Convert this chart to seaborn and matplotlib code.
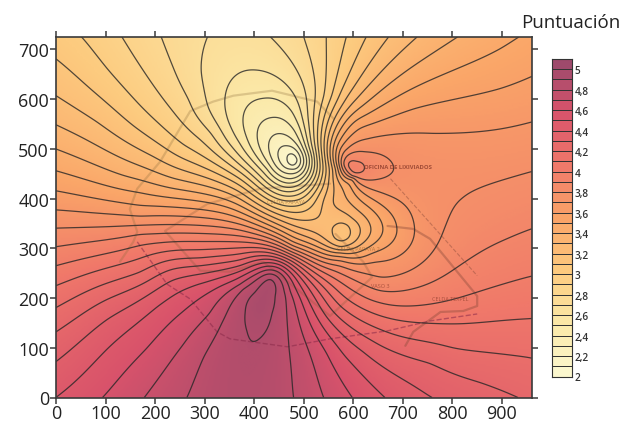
import numpy as np
import pandas as pd
import seaborn as sns
import matplotlib.pyplot as plt

# points (x, y), one list per level
c21 = [(477,490),(487,478),(477,466),(467,480)]
c22 = [(448,486),(467,506),(493,480),(475,460)]
c23 = [(428,504),(459,524),(497,490),(473,450)]
c24 = [(406,514),(436,560),(487,540),(499,500),(436,460),(473,440)]
c25 = [(378,540),(418,597),(479,575),(499,520),(511,480),(418,466),(467,430),(382,514)]
c26 = [(341,581),(402,657),(467,627),(499,546),(517,480),(345,555),(378,514),(426,460),(477,424)]
c27 = [(307,725),(291,655),(305,581),(345,514),(372,484),(477,414),(521,480),(513,506),(507,566),(487,655),(432,725)]
c28 = [(212,725),(236,667),(271,601),(317,534),(372,466),(477,406),(527,480),(523,621),(499,725)]
c29 = [(133,725),(170,667),(220,595),(291,520),(372,454),(477,396),(533,480),(543,607),(545,725)]
c30 = [(53,725),(103,661),(170,587),(257,506),(372,440),(477,385),(537,480),(558,607),(586,725)]
c31 = [(0,681),(69,621),(156,546),(257,480),(372,426),(477,373),(529,410),(541,500),(574,615),(626,725)]
c32 = [(0,607),(83,555),(196,486),(372,414),(477,359),(537,400),(547,500),(588,607),(671,725),
       (558,333),(576,351),(594,333),(576,315),(563,346),(589,346),(563,320),(589,320)]
c33 = [(0,548),(103,496),(236,440),(372,400),(477,347),(574,303),(614,333),(598,360),(560,390),(553,440),
       (553,500),(608,601),(729,725)]
c34 = [(0,500),(135,446),(372,385),(477,335),(574,297),(634,329),(618,369),(584,400),(564,460),(560,506),
       (620,587),(810,725)]
c35 = [(0,456),(170,414),(372,373),(477,323),(574,291),(661,329),(634,383),(594,424),(568,506),(628,567),(897,701)]
c36 = [(0,416),(170,385),(372,359),(477,311),(574,283),(689,329),(654,389),(598,440),(574,500),(608,546),
       (721,581),(897,621),(960,645)]
c37 = [(0,377),(170,361),(372,349),(477,303),(574,275),(640,283),(715,305),(719,353),(669,406),(608,434),
       (576,470),(588,500),(628,520),(762,530),(897,540),(960,554)]
c38 = [(0,341),(170,347),(372,337),(477,297),(574,265),(654,235),(721,259),(782,339),(822,400),(957,454),
       (580,470),(624,494),(679,470),(644,438),(598,444)]
c39 = [(0,303),(170,331),(372,325),(477,291),(574,247),(654,214),(721,219),(810,263),(911,319),(960,339),
       (590,466),(606,474),(622,462),(604,452)]
c40 = [(0,265),(170,307),(372,313),(477,287),(574,233),(654,192),(741,186),(856,214),(953,243)]
c41 = [(0,225),(170,279),(372,301),(477,281),(574,208),(654,164),(802,148),(953,158)]
c42 = [(0,180),(170,249),(291,279),(372,289),(477,275),(574,182),(654,138),(802,98),(953,82)]
c43 = [(0,132),(103,198),(236,259),(372,275),(473,269),(553,178),(654,104),(755,72),(856,31),(937,0)]
c44 = [(0,72),(103,158),(236,239),(372,263),(452,273),(527,192),(620,94),(755,0)]
c45 = [(0,0),(103,98),(204,184),(285,229),(372,253),(446,269),(507,198),(580,84),(663,0)]
c46 = [(95,0),(184,98),(257,172),(331,225),(372,245),(412,259),(452,263),(493,204),(547,92),(598,0)]
c47 = [(178,0),(257,104),(317,164),(372,228),(406,249),(446,253),(473,212),(507,104),(539,0)]
c48 = [(265,0),(297,84),(331,152),(378,218),(418,245),(446,245),(463,204),(469,98),(479,0)]
c49 = [(432,238),(402,212),(382,172),(385,135),(394,114),(410,118),(426,138),(436,170),(442,204)]

# extremes and corners of the surface
peak_x = [477, 576, 606, 412, 0, 960, 960]
peak_y = [478, 333, 464, 178, 725, 725, 0]
peak_z = [2.05, 3.15, 3.95, 4.95, 3.05, 3.52, 4.28]

# areas where the rings are tight and the surface must stay close to the points
tight_x = [477, 576, 620, 412]
tight_y = [478, 333, 464, 178]
tight_r = [45, 60, 65, 75]

# faint site drawing under the contours
road_outer = [(129,273),(156,313),(164,333),(149,379),(164,420),(210,474),(250,541),(271,576),(317,595),
              (358,607),(436,617),(527,595),(560,561)]
road_vaso = [(553,430),(412,420),(305,389),(220,335),(291,255),(351,253),(418,273),(553,164),(638,242),
             (620,273),(564,329)]
road_right = [(669,345),(721,339),(755,319),(850,204),(850,184),(822,174),(776,172),(721,132),(705,104)]
boundary = [(164,313),(224,228),(271,198),(325,132),(351,118),(467,102),(553,118),(669,134),(755,154),(850,168)]
long_dash = [(675,440),(850,245)]

x_ticks = [0, 100, 200, 300, 400, 500, 600, 700, 800, 900]
y_ticks = [0, 100, 200, 300, 400, 500, 600, 700]
bar_levels = [round(5.05 - 0.1 * i, 2) for i in range(31)]
bar_labels = ["5", "4,8", "4,6", "4,4", "4,2", "4", "3,8", "3,6", "3,4", "3,2", "3", "2,8", "2,6", "2,4", "2,2", "2"]
bar_colors = ["#FBF8D2", "#FBE9A8", "#FDCB7F", "#FAA568", "#F0786A", "#D9536B", "#98496C"]

contours = {2.1: c21, 2.2: c22, 2.3: c23, 2.4: c24, 2.5: c25, 2.6: c26, 2.7: c27, 2.8: c28, 2.9: c29,
            3.0: c30, 3.1: c31, 3.2: c32, 3.3: c33, 3.4: c34, 3.5: c35, 3.6: c36, 3.7: c37, 3.8: c38,
            3.9: c39, 4.0: c40, 4.1: c41, 4.2: c42, 4.3: c43, 4.4: c44, 4.5: c45, 4.6: c46, 4.7: c47,
            4.8: c48, 4.9: c49}

rows = [(x, y, lev) for lev, pts in contours.items() for x, y in pts]
rows += list(zip(peak_x, peak_y, peak_z))
ctrl = pd.DataFrame(rows, columns=["x", "y", "z"])


def tps_kernel(r2):
    return 0.5 * r2 * np.log(r2 + 1e-12)


def fit_surface(df, gx, gy, smooth=2e-3, smooth_tight=5e-5):
    # thin plate surface through the points
    px = df["x"].to_numpy() / 1000.0
    py = df["y"].to_numpy() / 1000.0
    n = len(df)
    lam = np.full(n, smooth)
    for tx, ty, tr in zip(tight_x, tight_y, tight_r):
        near = np.hypot(df["x"] - tx, df["y"] - ty) < tr
        lam[near.to_numpy()] = smooth_tight
    r2 = (px[:, None] - px[None, :]) ** 2 + (py[:, None] - py[None, :]) ** 2
    K = tps_kernel(r2) + np.diag(lam)
    P = np.column_stack([np.ones(n), px, py])
    A = np.block([[K, P], [P.T, np.zeros((3, 3))]])
    b = np.concatenate([df["z"].to_numpy(), np.zeros(3)])
    w = np.linalg.solve(A, b)
    qx, qy = np.meshgrid(gx / 1000.0, gy / 1000.0)
    q2 = (qx.ravel()[:, None] - px[None, :]) ** 2 + (qy.ravel()[:, None] - py[None, :]) ** 2
    z = tps_kernel(q2) @ w[:n] + w[n] + w[n + 1] * qx.ravel() + w[n + 2] * qy.ravel()
    return z.reshape(qx.shape)


def draw_site(ax, pts, color, ls="-", lw=1.6, alpha=0.28):
    df = pd.DataFrame(pts, columns=["x", "y"])
    sns.lineplot(data=df, x="x", y="y", sort=False, estimator=None, color=color, lw=lw,
                 ls=ls, alpha=alpha, ax=ax)


sns.set_style("ticks")
plt.rcParams["font.family"] = ["Open Sans", "DejaVu Sans"]
ink = "#3a3a3a"

grid_x = np.linspace(0, 960, 321)
grid_y = np.linspace(0, 725, 243)
field = fit_surface(ctrl, grid_x, grid_y)

cmap = sns.blend_palette(bar_colors, as_cmap=True)

fig = plt.figure(figsize=(6.36, 4.27), dpi=100)
ax = fig.add_axes([56 / 636, 1 - 398.5 / 427, 475.7 / 636, 360.5 / 427])
ax.imshow(field, origin="lower", extent=[0, 960, 0, 725], aspect="auto", cmap=cmap, vmin=2, vmax=5.1,
          interpolation="bilinear")

draw_site(ax, road_outer, "#8a6a3a")
draw_site(ax, road_vaso, "#8a5a3a")
draw_site(ax, road_right, "#8a4a3a", alpha=0.4)
draw_site(ax, boundary, "#8a2a4a", ls="--", lw=1.0, alpha=0.55)
draw_site(ax, long_dash, "#8a4a3a", ls="--", lw=0.8, alpha=0.45)

ax.contour(grid_x, grid_y, field, levels=sorted(contours), colors="#262626", linewidths=0.9, alpha=0.8)

ax.text(690, 465, "OFICINA DE LIXIVIADOS", fontsize=4.2, color="#8a3a2a", alpha=0.8, ha="center", va="center",
        fontweight="bold")
ax.text(795, 200, "CELDA TEXPEL", fontsize=4, color="#8a3a2a", alpha=0.7, ha="center", va="center")
ax.text(655, 225, "VASO 3", fontsize=4, color="#8a3a2a", alpha=0.7, ha="center", va="center")
ax.text(465, 395, "CELDA PAPAYA", fontsize=4, color="#8a5a2a", alpha=0.6, ha="center", va="center")
ax.text(610, 300, "CELDA PAPAYA 2", fontsize=4, color="#8a5a2a", alpha=0.6, ha="center", va="center")

ax.set_xlim(0, 960)
ax.set_ylim(0, 725)
ax.set_xticks(x_ticks)
ax.set_yticks(y_ticks)
ax.set_xlabel("")
ax.set_ylabel("")
ax.tick_params(top=True, right=True, length=4, width=1.1, color=ink, labelcolor="#222222", labelsize=13, pad=1)
for spine in ax.spines.values():
    spine.set_visible(True)
    spine.set_color(ink)
    spine.set_linewidth(1.2)

# colour key, one cell per 0.1 step
cax = fig.add_axes([552 / 636, 1 - 377.5 / 427, 20 / 636, 317.5 / 427])
strip = pd.DataFrame({"v": bar_levels})
sns.heatmap(strip, ax=cax, cmap=cmap, vmin=2, vmax=5.1, cbar=False, linewidths=0.7, linecolor="#333333",
            xticklabels=False, yticklabels=False)
cax.set_yticks([1 + 2 * i for i in range(15)] + [31])
cax.set_yticklabels(bar_labels)
cax.yaxis.tick_right()
cax.tick_params(axis="y", length=0, pad=2, labelsize=7.2, labelcolor="#333333", labelrotation=0)
for lab in cax.get_yticklabels():
    lab.set_fontweight("semibold")
for spine in cax.spines.values():
    spine.set_visible(True)
    spine.set_color("#333333")
    spine.set_linewidth(0.8)

fig.text(620 / 636, 1 - 14 / 427, "Puntuación", ha="right", va="top", fontsize=13.5, color="#222222")

fig.savefig("out.png", dpi=100)
